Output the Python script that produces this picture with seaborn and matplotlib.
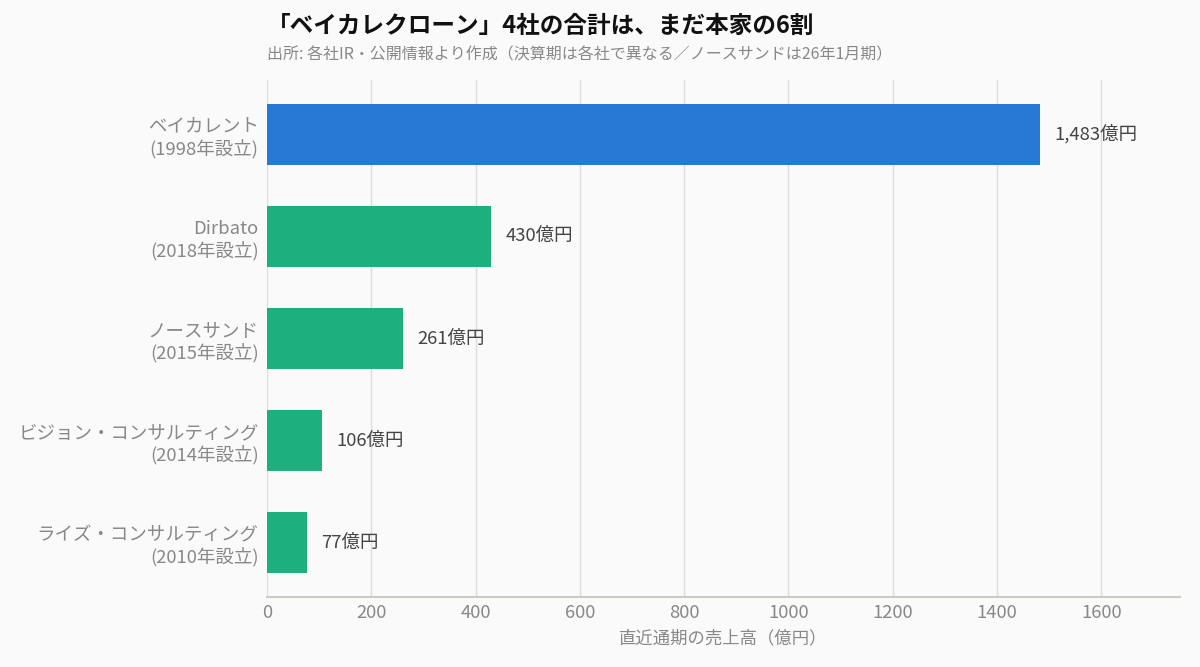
import matplotlib
matplotlib.use("Agg")
import matplotlib.pyplot as plt
import pandas as pd
import seaborn as sns

# Data
companies = ["ベイカレント", "Dirbato", "ノースサンド", "ビジョン・コンサルティング", "ライズ・コンサルティング"]
founded = [1998, 2018, 2015, 2014, 2010]
revenue = [1483, 430, 261, 106, 77]
group = ["本家", "クローン", "クローン", "クローン", "クローン"]

labels = [f"{c}\n({y}年設立)" for c, y in zip(companies, founded)]
df = pd.DataFrame({"label": labels, "revenue": revenue, "group": group})

sns.set_theme(style="white")
plt.rcParams["font.family"] = ["Noto Sans CJK JP", "DejaVu Sans"]

bg = "#FAFAFA"
fig = plt.figure(figsize=(12, 6.67), dpi=100, facecolor=bg)
ax = fig.add_axes([0.2225, 0.105, 0.7605, 0.775], facecolor=bg)

palette = {"本家": "#2878D6", "クローン": "#1DB07E"}
sns.barplot(
    data=df, y="label", x="revenue", hue="group", palette=palette,
    orient="h", width=0.6, dodge=False, legend=False, ax=ax,
    saturation=1, edgecolor="none",
)

# Value labels
for container in ax.containers:
    ax.bar_label(
        container, labels=[f"{v.get_width():,.0f}億円" for v in container],
        padding=10, fontsize=13.3, color="#444444",
    )

ax.set_xlim(0, 1750)
ax.set_ylim(4.53, -0.53)
ax.set_xticks(range(0, 1601, 200))
ax.grid(axis="x", color="#DDDDD5", linewidth=1)
ax.set_axisbelow(True)
for s in ["top", "right", "left"]:
    ax.spines[s].set_visible(False)
ax.spines["bottom"].set_color("#CCCCC4")
ax.spines["bottom"].set_linewidth(1.5)

ax.tick_params(axis="y", length=0, labelsize=13.3, labelcolor="#888888", pad=6)
ax.tick_params(axis="x", length=0, labelsize=13.3, labelcolor="#888888", pad=5)
ax.set_ylabel("")
ax.set_xlabel("直近通期の売上高（億円）", fontsize=12.5, color="#888888", labelpad=5)

fig.text(0.2225, 0.961, "「ベイカレクローン」4社の合計は、まだ本家の6割",
         fontsize=17, fontweight="bold", color="#111111", va="center")
fig.text(0.2225, 0.918, "出所: 各社IR・公開情報より作成（決算期は各社で異なる／ノースサンドは26年1月期）",
         fontsize=11.5, color="#888888", va="center")

plt.savefig("out.png", facecolor=bg)
plt.close()
